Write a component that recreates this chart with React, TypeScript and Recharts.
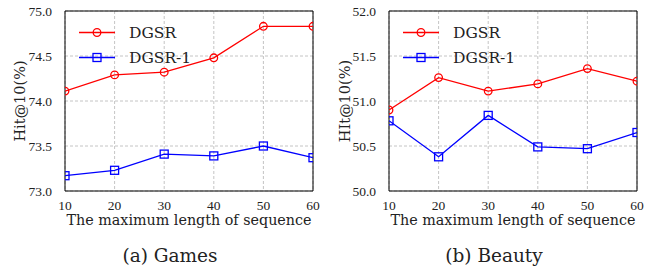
import {
  CartesianGrid,
  Legend,
  Line,
  LineChart,
  ReferenceArea,
  XAxis,
  YAxis,
} from 'recharts';

const seqLengths = [10, 20, 30, 40, 50, 60];
const gamesDGSR = [74.11, 74.29, 74.32, 74.48, 74.83, 74.83];
const gamesDGSR1 = [73.17, 73.23, 73.41, 73.39, 73.5, 73.37];
const beautyDGSR = [50.9, 51.26, 51.11, 51.19, 51.36, 51.22];
const beautyDGSR1 = [50.78, 50.38, 50.84, 50.49, 50.47, 50.65];

const xTicks = [10, 20, 30, 40, 50, 60];
const gamesYTicks = [73.0, 73.5, 74.0, 74.5, 75.0];
const beautyYTicks = [50.0, 50.5, 51.0, 51.5, 52.0];

const SERIF = 'DejaVu Serif, Liberation Serif, serif';
const TIMES = 'Liberation Serif, DejaVu Serif, serif';

// minor ticks: split each major step into n parts
function minorTicks(major: number[], n: number) {
  const out: number[] = [];
  for (let i = 0; i < major.length - 1; i++) {
    const step = (major[i + 1] - major[i]) / n;
    for (let k = 0; k < n; k++) out.push(+(major[i] + k * step).toFixed(4));
  }
  out.push(major[major.length - 1]);
  return out;
}

function buildRows(a: number[], b: number[]) {
  return seqLengths.map((len, i) => ({len, DGSR: a[i], 'DGSR-1': b[i]}));
}

const ROW = 25;
const renderLegend = ({payload}: any) => {
  const items = payload || [];
  return (
    <svg width={140} height={items.length * ROW} style={{display: 'block'}}>
      {items.map((e: any, i: number) => {
        const cy = ROW / 2 + i * ROW;
        return (
          <g key={e.value}>
            <line x1={0} y1={cy} x2={36} y2={cy} stroke={e.color} strokeWidth={1.3} />
            {e.type === 'circle' ? (
              <circle cx={18} cy={cy} r={3.8} fill="none" stroke={e.color} strokeWidth={1.3} />
            ) : (
              <rect x={14} y={cy - 4} width={8} height={8} fill="none" stroke={e.color} strokeWidth={1.3} />
            )}
            <text
              x={50}
              y={cy + 5.5}
              style={{fontFamily: SERIF, fontSize: 15.5}}
              fill="#222"
            >
              {e.value}
            </text>
          </g>
        );
      })}
    </svg>
  );
};

const squareDot = (color: string) => (p: any) => (
  <rect
    key={`sq-${p.index}`}
    x={p.cx - 4}
    y={p.cy - 4}
    width={8}
    height={8}
    fill="none"
    stroke={color}
    strokeWidth={1.3}
  />
);

interface PanelProps {
  width: number;
  marginRight: number;
  yWidth: number;
  yTicks: number[];
  yLabel: string;
  labelX: number;
  a: number[];
  b: number[];
  legendLeft: number;
}

function Panel({width, marginRight, yWidth, yTicks, yLabel, labelX, a, b, legendLeft}: PanelProps) {
  const data = buildRows(a, b);
  const yDomain = [yTicks[0], yTicks[yTicks.length - 1]];
  const xDomain = [xTicks[0], xTicks[xTicks.length - 1]];
  const xMinor = minorTicks(xTicks, 5);
  const yMinor = minorTicks(yTicks, 5);
  const tickFont = {fontFamily: TIMES, fontSize: 13.5, fill: '#222'};
  const blank = () => '';
  return (
    <LineChart
      width={width}
      height={231}
      data={data}
      margin={{top: 11, right: marginRight, bottom: 0, left: 0}}
    >
      <CartesianGrid
        xAxisId="x"
        yAxisId="y"
        stroke="#b5b5b5"
        strokeDasharray="3 2"
        strokeWidth={0.8}
      />
      <XAxis
        xAxisId="x"
        dataKey="len"
        type="number"
        domain={xDomain}
        ticks={xTicks}
        allowDataOverflow
        tickLine={false}
        axisLine={false}
        height={40}
        tick={tickFont}
        tickMargin={3}
        label={{
          value: 'The maximum length of sequence',
          position: 'insideBottom',
          offset: 6,
          style: {fontFamily: SERIF, fontSize: 14.3, fill: '#222'},
        }}
      />
      <YAxis
        yAxisId="y"
        type="number"
        domain={yDomain}
        ticks={yTicks}
        allowDataOverflow
        tickLine={false}
        axisLine={false}
        width={yWidth}
        tick={tickFont}
        tickMargin={7}
        tickFormatter={(v: number) => v.toFixed(1)}
        label={{
          value: yLabel,
          angle: -90,
          position: 'center',
          dx: labelX - yWidth / 2,
          style: {fontFamily: SERIF, fontSize: 14.5, fill: '#222', textAnchor: 'middle'},
        }}
      />
      {/* inward tick marks on all four sides */}
      <XAxis xAxisId="bMin" type="number" domain={xDomain} ticks={xMinor} mirror height={1} tickSize={2.5} tick={false} axisLine={false} stroke="#000" />
      <XAxis xAxisId="bMaj" type="number" domain={xDomain} ticks={xTicks} mirror height={1} tickSize={5} tick={false} axisLine={false} stroke="#000" />
      <XAxis xAxisId="tMin" orientation="top" type="number" domain={xDomain} ticks={xMinor} mirror height={1} tickSize={2.5} tick={false} axisLine={false} stroke="#000" />
      <XAxis xAxisId="tMaj" orientation="top" type="number" domain={xDomain} ticks={xTicks} mirror height={1} tickSize={5} tick={false} axisLine={false} stroke="#000" />
      <YAxis yAxisId="lMin" type="number" domain={yDomain} ticks={yMinor} mirror width={1} tickSize={2.5} tickFormatter={blank} axisLine={false} stroke="#000" />
      <YAxis yAxisId="lMaj" type="number" domain={yDomain} ticks={yTicks} mirror width={1} tickSize={5} tickFormatter={blank} axisLine={false} stroke="#000" />
      <YAxis yAxisId="rMin" orientation="right" type="number" domain={yDomain} ticks={yMinor} mirror width={1} tickSize={2.5} tickFormatter={blank} axisLine={false} stroke="#000" />
      <YAxis yAxisId="rMaj" orientation="right" type="number" domain={yDomain} ticks={yTicks} mirror width={1} tickSize={5} tickFormatter={blank} axisLine={false} stroke="#000" />
      <ReferenceArea
        xAxisId="x"
        yAxisId="y"
        x1={xDomain[0]}
        x2={xDomain[1]}
        y1={yDomain[0]}
        y2={yDomain[1]}
        fill="none"
        stroke="#000"
        strokeWidth={1}
      />
      <Line
        xAxisId="x"
        yAxisId="y"
        dataKey="DGSR"
        stroke="#ff0000"
        strokeWidth={1.3}
        legendType="circle"
        dot={{r: 3.8, fill: 'none', stroke: '#ff0000', strokeWidth: 1.3}}
        isAnimationActive={false}
      />
      <Line
        xAxisId="x"
        yAxisId="y"
        dataKey="DGSR-1"
        stroke="#0000ff"
        strokeWidth={1.3}
        legendType="square"
        dot={squareDot('#0000ff')}
        isAnimationActive={false}
      />
      <Legend
        layout="vertical"
        align="center"
        verticalAlign="middle"
        content={renderLegend}
        wrapperStyle={{left: legendLeft, top: 20, width: 'auto'}}
      />
    </LineChart>
  );
}

const captionStyle = {
  position: 'absolute' as const,
  top: 246,
  width: 200,
  textAlign: 'center' as const,
  fontFamily: SERIF,
  fontSize: 18.5,
  lineHeight: '20px',
  color: '#222',
};

export default function App() {
  return (
    <div
      style={{
        position: 'absolute',
        left: 0,
        top: 0,
        width: 665,
        height: 274,
        background: '#fff',
      }}
    >
      <div style={{position: 'absolute', left: 0, top: 0}}>
        <Panel
          width={332}
          marginRight={19}
          yWidth={65}
          yTicks={gamesYTicks}
          yLabel="Hit@10(%)"
          labelX={20}
          a={gamesDGSR}
          b={gamesDGSR1}
          legendLeft={79}
        />
      </div>
      <div style={{position: 'absolute', left: 332, top: 0}}>
        <Panel
          width={333}
          marginRight={28}
          yWidth={57}
          yTicks={beautyYTicks}
          yLabel="HIt@10(%)"
          labelX={13}
          a={beautyDGSR}
          b={beautyDGSR1}
          legendLeft={71}
        />
      </div>
      <div style={{...captionStyle, left: 70}}>(a) Games</div>
      <div style={{...captionStyle, left: 394}}>(b) Beauty</div>
    </div>
  );
}
